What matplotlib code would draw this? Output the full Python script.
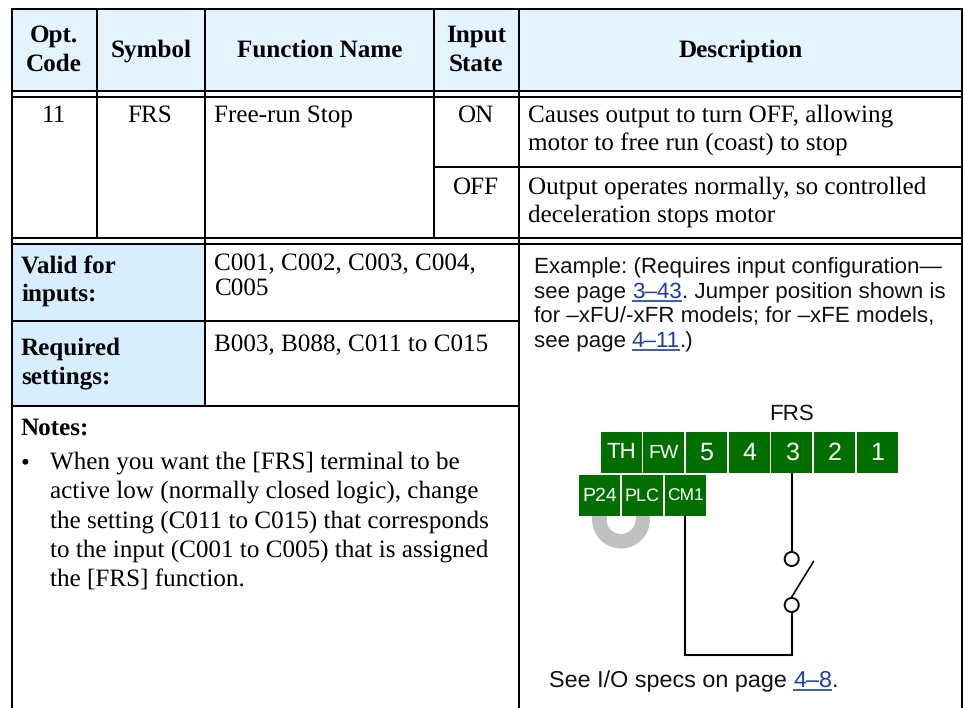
import matplotlib
matplotlib.use('Agg')
import matplotlib.pyplot as plt
from matplotlib.patches import Rectangle, Wedge, Circle

# Textos de la tabla
header_cols = ['Opt.\nCode', 'Symbol', 'Function Name', 'Input\nState', 'Description']
row_code = '11'
row_symbol = 'FRS'
row_name = 'Free-run Stop'
states = ['ON', 'OFF']
state_desc = [['Causes output to turn OFF, allowing', 'motor to free run (coast) to stop'],
              ['Output operates normally, so controlled', 'deceleration stops motor']]
valid_label = ['Valid for', 'inputs:']
valid_text = ['C001, C002, C003, C004,', 'C005']
required_label = ['Required', 'settings:']
required_text = 'B003, B088, C011 to C015'
notes_title = 'Notes:'
notes_lines = ['When you want the [FRS] terminal to be',
               'active low (normally closed logic), change',
               'the setting (C011 to C015) that corresponds',
               'to the input (C001 to C005) that is assigned',
               'the [FRS] function.']
terminals_top = ['TH', 'FW', '5', '4', '3', '2', '1']
terminals_bottom = ['P24', 'PLC', 'CM1']

SERIF = 'Liberation Serif'
SANS = 'Liberation Sans'
HEAD_BLUE = '#E3F4FF'
SIDE_BLUE = '#D6EEFF'
GREEN = '#006F00'
LINK = '#1A3FA8'
SZ = 18.05
SANS_SZ = 16.15
LW = 1.45

plt.rcParams['text.hinting'] = 'none'

fig = plt.figure(figsize=(9.65, 7.08), dpi=100)
ax = fig.add_axes([0, 0, 1, 1])
ax.set_xlim(0, 965)
ax.set_ylim(708, 0)
ax.axis('off')


def hline(y, x0, x1):
    ax.plot([x0, x1], [y, y], color='k', lw=LW, solid_capstyle='butt', zorder=5)


def vline(x, y0, y1):
    ax.plot([x, x], [y0, y1], color='k', lw=LW, solid_capstyle='butt', zorder=5)


def serif(x, y, s, bold=False, ha='left'):
    return ax.text(x, y, s, family=SERIF, fontsize=SZ, weight='bold' if bold else 'normal',
                   ha=ha, va='baseline', color='k')


def sans_parts(x, y, parts, size=SANS_SZ):
    # texto seguido, las partes con link van en azul y subrayadas
    rend = fig.canvas.get_renderer()
    for s, is_link in parts:
        t = ax.text(x, y, s, family=SANS, fontsize=size, va='baseline',
                    color=LINK if is_link else '#111111')
        w = t.get_window_extent(rend).width
        if is_link:
            ax.plot([x, x + w], [y + 2.5, y + 2.5], color=LINK, lw=1.2, solid_capstyle='butt')
        x += w


# Fondos
ax.add_patch(Rectangle((11, 8), 951, 83, color=HEAD_BLUE, lw=0))
ax.add_patch(Rectangle((11, 244), 194, 162, color=SIDE_BLUE, lw=0))

# Lineas de la tabla
LEFT, RIGHT = 11.5, 961.5
X1, X2, X3, X4 = 97, 205, 434, 519
hline(8.5, LEFT - 1, RIGHT + 1)
hline(91, LEFT, RIGHT)
hline(96.5, LEFT, RIGHT)
hline(167, X3, RIGHT)
hline(237.5, LEFT, RIGHT)
hline(244, LEFT, RIGHT)
hline(321, LEFT, X4)
hline(406, LEFT, X4)
vline(LEFT, 8, 708)
vline(RIGHT, 8, 708)
vline(X1, 8, 237.5)
vline(X2, 8, 406)
vline(X3, 8, 237.5)
vline(X4, 8, 708)

# Encabezado
serif(54, 42, header_cols[0].split('\n')[0], True, 'center')
serif(54, 71, header_cols[0].split('\n')[1], True, 'center')
serif(151, 57, header_cols[1], True, 'center')
serif(319.5, 57, header_cols[2], True, 'center')
serif(476, 42, header_cols[3].split('\n')[0], True, 'center')
serif(476, 71, header_cols[3].split('\n')[1], True, 'center')
serif(741, 57, header_cols[4], True, 'center')

# Fila FRS
serif(54, 122, row_code, ha='center')
serif(150, 122, row_symbol, ha='center')
serif(214.5, 122, row_name)
serif(476, 122, states[0], ha='center')
serif(476, 194, states[1], ha='center')
serif(528, 122, state_desc[0][0])
serif(528, 150, state_desc[0][1])
serif(528, 194, state_desc[1][0])
serif(528, 222, state_desc[1][1])

# Bloque inferior izquierdo
serif(21, 273, valid_label[0], True)
serif(21, 300.5, valid_label[1], True)
serif(214.5, 270, valid_text[0])
serif(214.5, 295, valid_text[1])
serif(21, 355, required_label[0], True)
serif(21, 383.5, required_label[1], True)
serif(214.5, 351, required_text)
serif(21, 435, notes_title, True)
serif(21, 469, '\u2022')
for i, line in enumerate(notes_lines):
    serif(50, 469 + i * 29.1, line)

# Bloque de ejemplo
sans_parts(533.5, 273, [('Example: (Requires input configuration\u2014', False)])
sans_parts(533.5, 298, [('see page ', False), ('3\u201343', True), ('. Jumper position shown is', False)])
sans_parts(533.5, 322, [('for \u2013xFU/-xFR models; for \u2013xFE models,', False)])
sans_parts(533.5, 347, [('see page ', False), ('4\u201311', True), ('.)', False)])

# Diagrama de terminales
ax.text(791.5, 420, 'FRS', family=SANS, fontsize=SANS_SZ, ha='center', va='baseline', color='#111111')
ax.add_patch(Wedge((621, 519.5), 29, 0, 180, width=14.5, color='#C0C0C0', lw=0, zorder=1))
ax.add_patch(Rectangle((592, 505), 14.5, 15, color='#C0C0C0', lw=0, zorder=1))
ax.add_patch(Rectangle((635.5, 505), 14.5, 15, color='#C0C0C0', lw=0, zorder=1))

top_x = [601, 643, 686, 729, 771, 814, 857]
top_sizes = [16, 14, 18, 18, 18, 18, 18]
top_base = [458, 458, 460, 460, 460, 460, 460]
for x, name, size, base in zip(top_x, terminals_top, top_sizes, top_base):
    ax.add_patch(Rectangle((x, 432), 40.5, 41, color=GREEN, lw=0, zorder=2))
    ax.text(x + 20.5, base, name, family=SANS, fontsize=size, color='white',
            ha='center', va='baseline', zorder=3)
bot_x = [579, 622, 665]
bot_sizes = [14, 13, 12.5]
for x, name, size in zip(bot_x, terminals_bottom, bot_sizes):
    ax.add_patch(Rectangle((x, 475), 40.5, 41, color=GREEN, lw=0, zorder=2))
    ax.text(x + 20.5, 501, name, family=SANS, fontsize=size, color='white',
            ha='center', va='baseline', zorder=3)

# Cableado
ax.plot([791.7, 791.7], [473, 552], color='k', lw=1.5, solid_capstyle='butt')
ax.plot([791.7, 791.7, 685, 685], [612, 655, 655, 516], color='k', lw=1.5,
        solid_joinstyle='miter', solid_capstyle='butt')
ax.plot([791.7, 813.5], [597, 561.5], color='k', lw=1.2)
ax.add_patch(Circle((791.7, 559), 7, fc='white', ec='k', lw=1.4, zorder=4))
ax.add_patch(Circle((791.7, 605), 7, fc='white', ec='k', lw=1.4, zorder=4))

sans_parts(549, 687, [('See I/O specs on page ', False), ('4\u20138', True), ('.', False)], size=16.85)

fig.savefig('out.png', dpi=100)
